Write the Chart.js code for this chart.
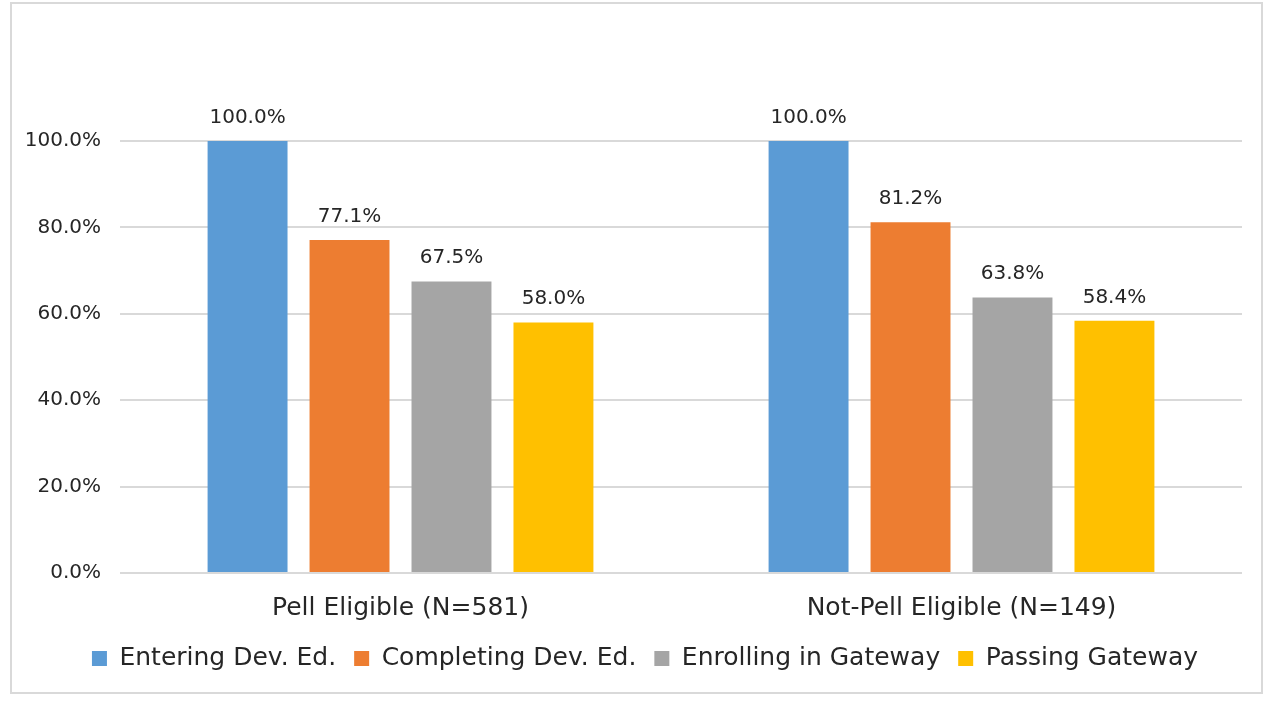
<!DOCTYPE html>
<html>
<head>
<meta charset="utf-8">
<script src="https://cdn.jsdelivr.net/npm/chart.js@4.4.0/dist/chart.umd.min.js"></script>
<style>
  html, body { margin: 0; padding: 0; background: #fff; }
  #wrap { position: relative; width: 1270px; height: 702px; overflow: hidden; }
  #frame { position: absolute; left: 10px; top: 2px; width: 1253px; height: 692px; border: 2px solid #d9d9d9; box-sizing: border-box; }
  #chart { position: absolute; left: 0; top: 0; }
</style>
</head>
<body>
<div id="wrap">
  <div id="frame"></div>
  <canvas id="chart" width="1270" height="702"></canvas>
</div>
<script>
// chart data
const categories = ['Pell Eligible (N=581)', 'Not-Pell Eligible (N=149)'];
const seriesNames = ['Entering Dev. Ed.', 'Completing Dev. Ed.', 'Enrolling in Gateway', 'Passing Gateway'];
const entering   = [100.0, 100.0];
const completing = [77.1, 81.2];
const enrolling  = [67.5, 63.8];
const passing    = [58.0, 58.4];
const yTicks = [0, 20, 40, 60, 80, 100];

const colors = ['#5B9BD5', '#ED7D31', '#A5A5A5', '#FFC000'];
const FONT = "'DejaVu Sans', sans-serif";

// simple data labels above each bar
const barLabels = {
  id: 'barLabels',
  afterDatasetsDraw(chart){
    const ctx = chart.ctx;
    ctx.save();
    ctx.font = '20px ' + FONT;
    ctx.fillStyle = '#262626';
    ctx.textAlign = 'center';
    ctx.textBaseline = 'alphabetic';
    chart.data.datasets.forEach((ds, i) => {
      const meta = chart.getDatasetMeta(i);
      meta.data.forEach((bar, j) => {
        ctx.fillText(ds.data[j].toFixed(1) + '%', bar.x, bar.y - 18);
      });
    });
    ctx.restore();
  }
};

// legend is centred on the frame, not on the plot, so nudge it right
const legendShift = {
  id: 'legendShift',
  afterLayout(chart){
    if (chart.legend) { chart.legend.left += 24; chart.legend.right += 24; }
  }
};

const allSeries = [entering, completing, enrolling, passing];

new Chart(document.getElementById('chart'), {
  type: 'bar',
  data: {
    labels: categories,
    datasets: allSeries.map((d, i) => ({
      label: seriesNames[i],
      data: d,
      backgroundColor: colors[i],
      categoryPercentage: 0.727,
      barPercentage: 0.784
    }))
  },
  options: {
    responsive: false,
    animation: false,
    layout: { padding: { left: 0, right: 28, top: 141, bottom: 21 } },
    plugins: {
      legend: {
        position: 'bottom',
        labels: {
          font: { family: FONT, size: 25 },
          color: '#262626',
          boxWidth: 15,
          boxHeight: 15,
          padding: 18
        }
      },
      tooltip: { enabled: false }
    },
    scales: {
      x: {
        grid: { display: false },
        border: { display: false },
        ticks: { font: { family: FONT, size: 25 }, color: '#262626', padding: 12 },
        afterFit(scale){ scale.height = 55; }
      },
      y: {
        min: 0, max: 100,
        afterBuildTicks(scale){ scale.ticks = yTicks.map(v => ({ value: v })); },
        grid: { color: '#d9d9d9', lineWidth: 2, drawTicks: false },
        border: { display: false },
        ticks: {
          font: { family: FONT, size: 20 },
          color: '#262626',
          padding: 19,
          callback: v => v.toFixed(1) + '%'
        },
        afterFit(scale){ scale.width = 120; }
      }
    }
  },
  plugins: [barLabels, legendShift]
});
</script>
</body>
</html>
